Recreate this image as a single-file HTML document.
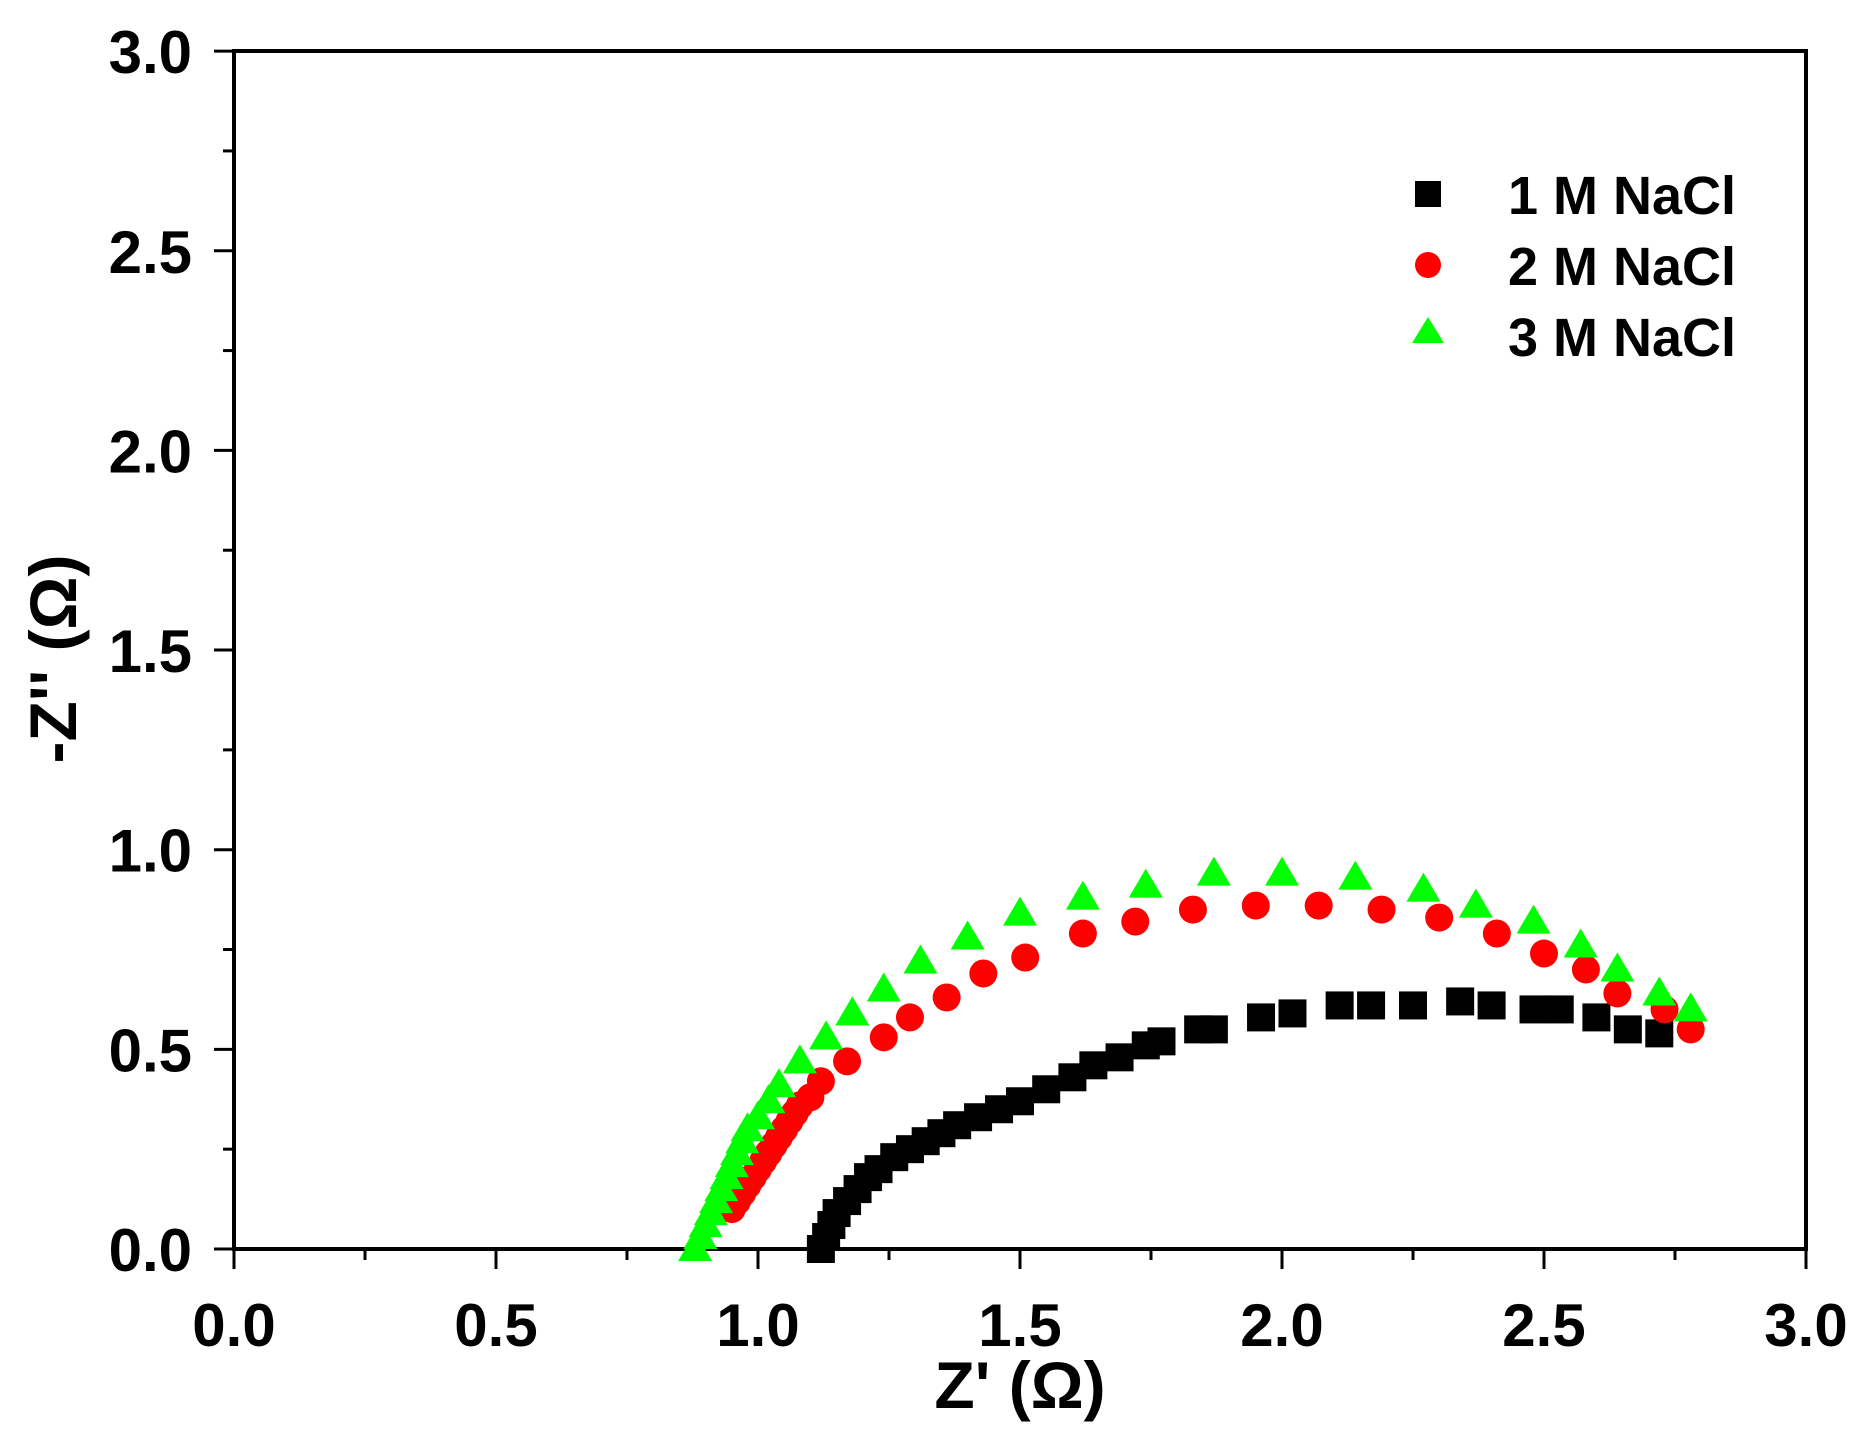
<!DOCTYPE html>
<html><head><meta charset="utf-8"><style>html,body{margin:0;padding:0;background:#fff}</style></head>
<body>
<svg width="1861" height="1438" xmlns="http://www.w3.org/2000/svg" font-family="Liberation Sans, Arial, sans-serif" font-weight="bold">
<rect width="1861" height="1438" fill="#fff"/>
<g id="ticks" stroke="#000" stroke-width="3"></g>
<rect x="234" y="51" width="1572" height="1198" fill="none" stroke="#000" stroke-width="4"/>
<g id="labels" font-size="60" fill="#000"></g>
<text x="1020" y="1408" font-size="66" text-anchor="middle">Z' (Ω)</text>
<text transform="translate(76,659) rotate(-90)" font-size="66" text-anchor="middle">-Z'' (Ω)</text>
<g id="data"></g>
<rect x="1415" y="181" width="26" height="26" fill="#000"/>
<circle cx="1428" cy="265" r="13" fill="#f00"/>
<polygon points="1412,343 1444,343 1428,317" fill="#0f0"/>
<g font-size="54"><text x="1508" y="214">1 M NaCl</text><text x="1508" y="285">2 M NaCl</text><text x="1508" y="356">3 M NaCl</text></g>
<script>
var X=v=>234+v*524, Y=v=>1249-v*399.3, NS="http://www.w3.org/2000/svg";
function el(p,t,a){var e=document.createElementNS(NS,t);for(var k in a)e.setAttribute(k,a[k]);p.appendChild(e);return e;}
var tk=document.getElementById('ticks'),lb=document.getElementById('labels'),dt=document.getElementById('data');
for(var i=0;i<=12;i++){var v=i*0.25,maj=i%2==0;
 el(tk,'line',{x1:X(v),x2:X(v),y1:1249,y2:1249+(maj?20:11)});
 el(tk,'line',{y1:Y(v),y2:Y(v),x1:234,x2:234-(maj?20:11)});
 if(maj){var t=el(lb,'text',{x:X(v),y:1346,'text-anchor':'middle'});t.textContent=v.toFixed(1);
 t=el(lb,'text',{x:192,y:Y(v)+22,'text-anchor':'end'});t.textContent=v.toFixed(1);}}
var B=[[1.12,0],[1.13,.03],[1.14,.06],[1.15,.09],[1.17,.12],[1.19,.15],[1.21,.18],[1.23,.2],[1.26,.23],[1.29,.25],[1.32,.27],[1.35,.29],[1.38,.31],[1.42,.33],[1.46,.35],[1.5,.37],[1.55,.4],[1.6,.43],[1.64,.46],[1.69,.48],[1.74,.51],[1.77,.52],[1.84,.55],[1.87,.55],[1.96,.58],[2.02,.59],[2.11,.61],[2.17,.61],[2.25,.61],[2.34,.62],[2.4,.61],[2.48,.6],[2.53,.6],[2.6,.58],[2.66,.55],[2.72,.54]];
var R=[[.95,.1],[.96,.12],[.97,.14],[.98,.16],[.99,.18],[1,.2],[1.01,.22],[1.02,.24],[1.03,.26],[1.04,.28],[1.05,.3],[1.06,.32],[1.07,.34],[1.08,.36],[1.1,.38],[1.12,.42],[1.17,.47],[1.24,.53],[1.29,.58],[1.36,.63],[1.43,.69],[1.51,.73],[1.62,.79],[1.72,.82],[1.83,.85],[1.95,.86],[2.07,.86],[2.19,.85],[2.3,.83],[2.41,.79],[2.5,.74],[2.58,.7],[2.64,.64],[2.73,.6],[2.78,.55]];
var G=[[.88,0],[.89,.03],[.9,.06],[.91,.09],[.92,.12],[.93,.15],[.94,.18],[.95,.21],[.96,.24],[.97,.27],[.98,.3],[1,.33],[1.02,.37],[1.04,.41],[1.08,.47],[1.13,.53],[1.18,.59],[1.24,.65],[1.31,.72],[1.4,.78],[1.5,.84],[1.62,.88],[1.74,.91],[1.87,.94],[2,.94],[2.14,.93],[2.27,.9],[2.37,.86],[2.48,.82],[2.57,.76],[2.64,.7],[2.72,.64],[2.78,.6]];
B.forEach(p=>el(dt,'rect',{x:X(p[0])-14,y:Y(p[1])-14,width:28,height:28,fill:'#000'}));
R.forEach(p=>el(dt,'circle',{cx:X(p[0]),cy:Y(p[1]),r:14,fill:'#f00'}));
G.forEach(p=>{var x=X(p[0]),y=Y(p[1]);el(dt,'polygon',{points:(x-17)+','+(y+12)+' '+(x+17)+','+(y+12)+' '+x+','+(y-17),fill:'#0f0'});});
</script>
</svg>
</body></html>
